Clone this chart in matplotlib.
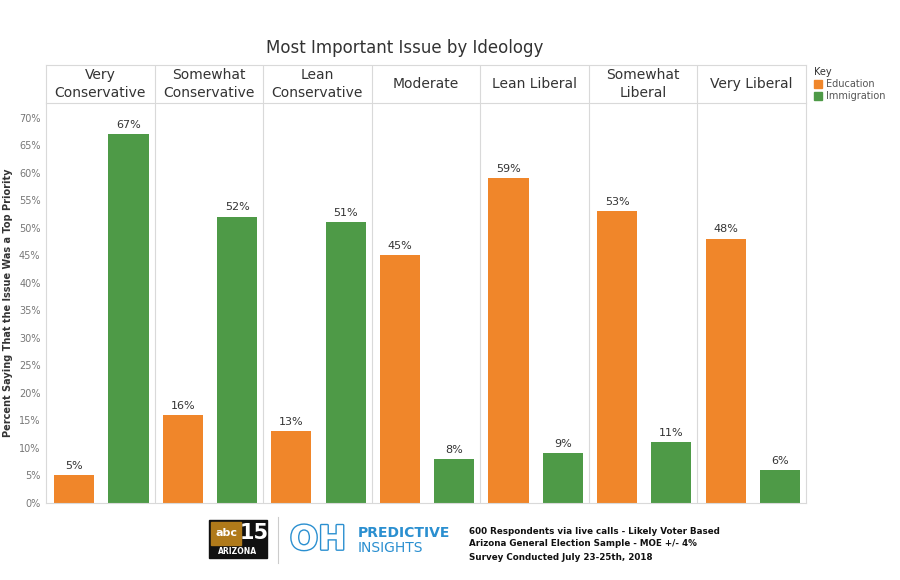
import matplotlib
matplotlib.use("Agg")
import matplotlib.pyplot as plt
import matplotlib.patheffects as pe
from matplotlib.patches import Rectangle

categories = ["Very\nConservative", "Somewhat\nConservative", "Lean\nConservative",
              "Moderate", "Lean Liberal", "Somewhat\nLiberal", "Very Liberal"]
education = [5, 16, 13, 45, 59, 53, 48]
immigration = [67, 52, 51, 8, 9, 11, 6]
yticks = list(range(0, 75, 5))

ORANGE = "#f0862a"
GREEN = "#4e9a47"
GRID = "#d9d9d9"

W, H = 900, 580
fig = plt.figure(figsize=(9, 5.8), dpi=100)
fig.patch.set_facecolor("white")

def box(x0, y0, x1, y1):
    return [x0 / W, 1 - y1 / H, (x1 - x0) / W, (y1 - y0) / H]

ax = fig.add_axes(box(46, 103, 806, 503))
n = len(categories)
xs = list(range(n))
ax.bar([x + 0.26 for x in xs], education, width=0.37, color=ORANGE)
ax.bar([x + 0.76 for x in xs], immigration, width=0.37, color=GREEN)
for x, e, g in zip(xs, education, immigration):
    ax.text(x + 0.26, e + 0.8, f"{e}%", ha="center", va="bottom", fontsize=8, color="#333333")
    ax.text(x + 0.76, g + 0.8, f"{g}%", ha="center", va="bottom", fontsize=8, color="#333333")
ax.set_xlim(0, n)
ax.set_ylim(0, 72.7)
ax.set_yticks(yticks)
ax.set_yticklabels([f"{t}%" for t in yticks], fontsize=7, color="#777777")
ax.set_xticks([])
for i in range(1, n):
    ax.axvline(i, color=GRID, lw=0.8)
ax.spines["top"].set_visible(False)
for s in ["left", "bottom", "right"]:
    ax.spines[s].set_color(GRID)
ax.tick_params(axis="y", length=0, pad=4)
ax.set_ylabel("Percent Saying That the Issue Was a Top Priority", fontsize=7,
              fontweight="bold", color="#333333", labelpad=4)

hax = fig.add_axes(box(46, 65, 806, 103))
hax.set_xlim(0, n); hax.set_ylim(0, 1)
hax.set_xticks([]); hax.set_yticks([])
for s in hax.spines.values():
    s.set_color(GRID)
for i in range(1, n):
    hax.axvline(i, color=GRID, lw=0.8)
for i, c in enumerate(categories):
    hax.text(i + 0.5, 0.5, c, ha="center", va="center", fontsize=10, color="#333333",
             linespacing=1.3)

fig.text(405 / W, 1 - 48 / H, "Most Important Issue by Ideology", ha="center", va="center",
         fontsize=12, color="#333333")

fig.text(814 / W, 1 - 72 / H, "Key", fontsize=7, color="#333333", va="center")
for j, (lab, col) in enumerate([("Education", ORANGE), ("Immigration", GREEN)]):
    y = 84 + j * 12
    fig.patches.append(Rectangle((814 / W, 1 - (y + 4) / H), 8 / W, 8 / H,
                                 color=col, transform=fig.transFigure))
    fig.text(826 / W, 1 - y / H, lab, fontsize=7, color="#555555", va="center")

fig.patches.append(Rectangle((209 / W, 1 - 558 / H), 58 / W, 38 / H, color="#111111",
                             transform=fig.transFigure))
fig.patches.append(Rectangle((211 / W, 1 - 545 / H), 30 / W, 23 / H, color="#b07a1a",
                             transform=fig.transFigure))
fig.text(226 / W, 1 - 533 / H, "abc", fontsize=8, color="white", ha="center", va="center",
         fontweight="bold")
fig.text(254 / W, 1 - 533 / H, "15", fontsize=15, color="white", ha="center", va="center",
         fontweight="bold")
fig.text(238 / W, 1 - 552 / H, "ARIZONA", fontsize=5.5, color="white", ha="center",
         va="center", fontweight="bold")
fig.lines.append(plt.Line2D([278 / W, 278 / W], [1 - 563 / H, 1 - 517 / H], color="#cccccc",
                            lw=0.8, transform=fig.transFigure))
t = fig.text(318 / W, 1 - 540 / H, "OH", fontsize=24, color="white", ha="center", va="center",
             fontweight="bold")
t.set_path_effects([pe.withStroke(linewidth=2, foreground="#2a8fd0")])
fig.text(358 / W, 1 - 533 / H, "PREDICTIVE", fontsize=10, color="#2a8fd0", va="center",
         fontweight="bold")
fig.text(358 / W, 1 - 548 / H, "INSIGHTS", fontsize=10, color="#2a8fd0", va="center")
for k, line in enumerate(["600 Respondents via live calls - Likely Voter Based",
                          "Arizona General Election Sample - MOE +/- 4%",
                          "Survey Conducted July 23-25th, 2018"]):
    fig.text(469 / W, 1 - (531 + k * 13) / H, line, fontsize=6.3, fontweight="bold",
             color="#111111", va="center")

fig.savefig("out.png", dpi=100)
